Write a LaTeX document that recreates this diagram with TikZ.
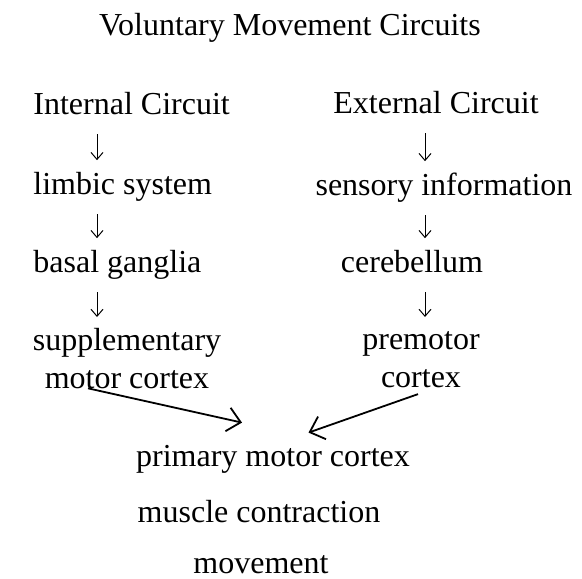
\documentclass[tikz,border=0pt]{standalone}
\usepackage{fontspec}
\setmainfont{Liberation Serif}
\usetikzlibrary{arrows.meta}

\begin{document}
\begin{tikzpicture}[x=0.5pt,y=-0.5pt,
        txt/.style={inner sep=0pt,font=\fontsize{16}{19}\selectfont,text height=11.2pt,text depth=3.5pt},
        lbl/.style={inner sep=0pt,font=\fontsize{16}{19}\selectfont,align=center},
        down/.style={-{Straight Barb[length=3.5pt,width=6pt]},line width=0.5pt,shorten <=6.5pt,shorten >=5.5pt},
        into/.style={-{Straight Barb[length=6.5pt,width=12pt]},line width=0.9pt}]
    \useasboundingbox (0,0) rectangle (582,578);
    \node[txt,anchor=base] (title) at (290,35) {Voluntary Movement Circuits};
    \node[txt,anchor=base west] (ic) at (33,114) {Internal Circuit};
    \node[txt,anchor=base west] (lim) at (33,194) {limbic system};
    \node[txt,anchor=base west] (bg) at (33,272) {basal ganglia};
    \node[lbl,anchor=north] (smc) at (127,328) {supplementary\\motor cortex};
    \node[txt,anchor=base] (ec) at (436,113) {External Circuit};
    \node[txt,anchor=base] (si) at (444,195) {sensory information};
    \node[txt,anchor=base] (cb) at (412,272) {cerebellum};
    \node[lbl,anchor=north] (pm) at (421,331) {premotor\\cortex};
    \node[txt,anchor=base] (pmc) at (273,466) {primary motor cortex};
    \node[txt,anchor=base] (mc) at (259,522) {muscle contraction};
    \node[txt,anchor=base,text depth=0pt] (mv) at (261,573) {movement};
    \coordinate (lcol) at (97,0);
    \coordinate (rcol) at (425,0);
    \draw[down] (ic.south -| lcol) -- (lim.north -| lcol);
    \draw[down] (lim.south -| lcol) -- (bg.north -| lcol);
    \draw[down] (bg.south -| lcol) -- (smc.north -| lcol);
    \draw[down] (ec.south -| rcol) -- (si.north -| rcol);
    \draw[down] (si.south -| rcol) -- (cb.north -| rcol);
    \draw[down,shorten >=7pt] (cb.south -| rcol) -- (pm.north -| rcol);
    \draw[into] ([xshift=-19.5pt,yshift=0.5pt]smc.south) -- ([xshift=-15.5pt,yshift=10.3pt]pmc.north);
    \draw[into] ([xshift=-1.5pt,yshift=-3pt]pm.south) -- ([xshift=17.75pt,yshift=5.3pt]pmc.north);
\end{tikzpicture}
\end{document}
